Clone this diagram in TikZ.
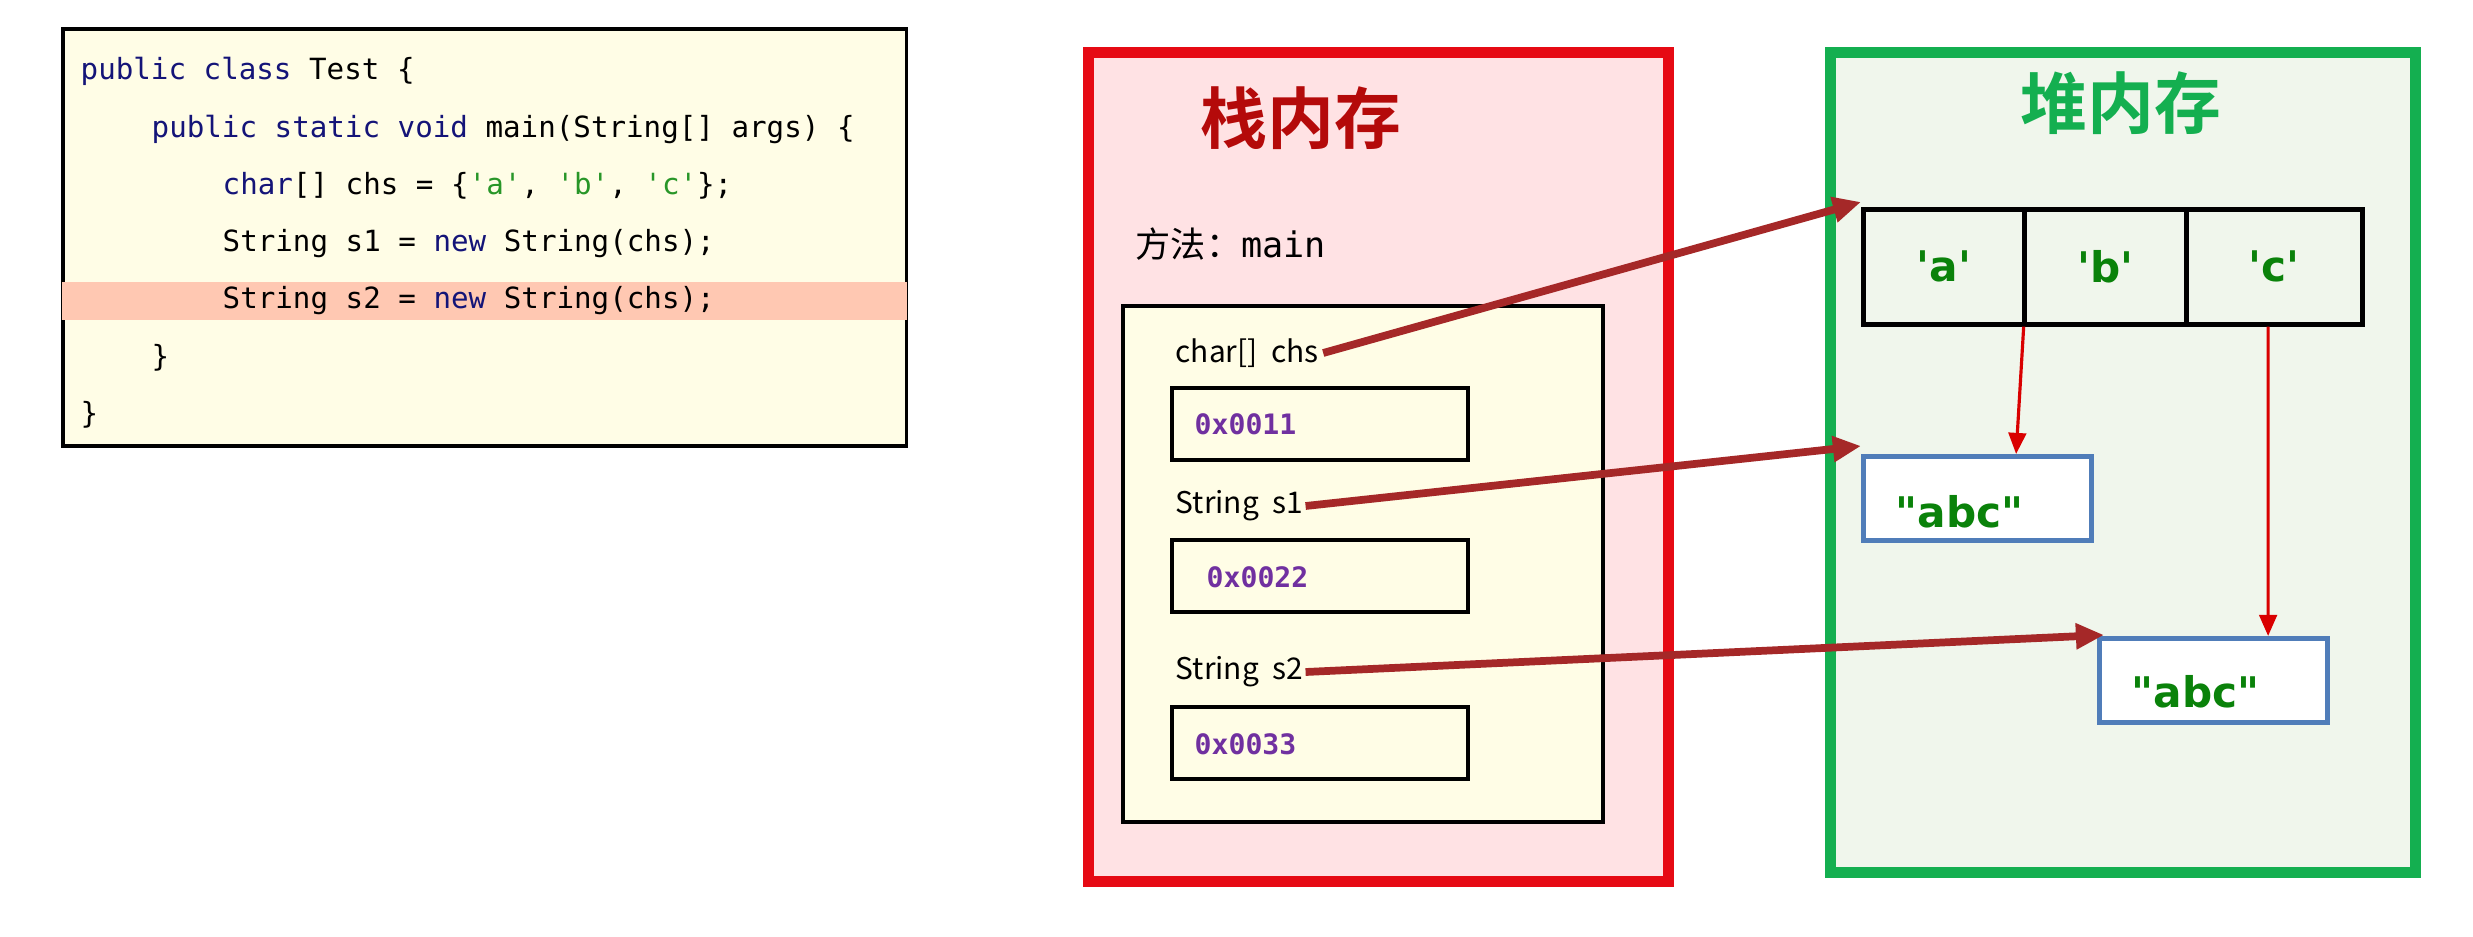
\documentclass[tikz,border=0pt]{standalone}
\usepackage{fontspec}
\setmainfont{Noto Sans CJK SC}
\setmonofont{DejaVu Sans Mono}
\newfontfamily\cjkbold{Noto Sans CJK SC Bold}
\newfontfamily\cellfont{DejaVu Sans}
\usetikzlibrary{calc, arrows.meta, positioning}

\definecolor{codebg}{RGB}{255,253,230}
\definecolor{hilite}{RGB}{255,200,178}
\definecolor{kw}{RGB}{20,20,120}
\definecolor{strg}{RGB}{40,150,40}
\definecolor{stackbg}{RGB}{255,226,228}
\definecolor{stackred}{RGB}{230,10,20}
\definecolor{titlered}{RGB}{180,10,10}
\definecolor{heapbg}{RGB}{240,246,236}
\definecolor{heapgreen}{RGB}{20,175,80}
\definecolor{valpurple}{RGB}{112,48,160}
\definecolor{darkgreen}{RGB}{10,130,10}
\definecolor{refarrow}{RGB}{165,40,40}
\definecolor{boxblue}{RGB}{80,125,185}

\begin{document}
\begin{tikzpicture}[x=0.01cm, y=-0.01cm,
						code/.style = {anchor=west, inner sep=0pt, font=\ttfamily\fontsize{8.3}{10}\selectfont},
						varlabel/.style = {anchor=west, inner sep=0pt, font=\fontsize{8.5}{10}\selectfont},
						valbox/.style = {draw, line width=1.2pt, minimum width=2.96cm, minimum height=0.72cm, anchor=north west},
						val/.style = {anchor=west, inner sep=0pt, text=valpurple, font=\ttfamily\bfseries\fontsize{8}{10}\selectfont},
						cell/.style = {draw, line width=1.3pt, minimum height=1.15cm, anchor=north west, inner sep=0pt, font=\cellfont\bfseries\fontsize{12}{14}\selectfont, text=darkgreen},
						strbox/.style = {draw=boxblue, line width=1.5pt, fill=white, minimum width=2.28cm, minimum height=0.84cm, anchor=north west, inner sep=0pt},
						strtext/.style = {anchor=west, inner sep=0pt, text=darkgreen, font=\cellfont\bfseries\fontsize{12}{14}\selectfont},
						refline/.style = {draw=refarrow, line width=2.2pt, -{Triangle[length=8pt, width=7pt]}},
						charline/.style = {draw=red!85!black, line width=0.9pt, -{Triangle[length=6pt, width=5pt]}}
					]
					\useasboundingbox (0,0) rectangle (2473,937);

					% code panel
					\node[draw, line width=1pt, fill=codebg, minimum width=8.43cm, minimum height=4.17cm, anchor=north west, inner sep=0pt] (codebox) at (61,27) {};
					\fill[hilite] (62,282) rectangle (907,320);
					\node[code] (l1) at (80,71) {\textcolor{kw}{public class} Test \{};
					\node[code] (l2) at (151,129) {\textcolor{kw}{public static void} main(String[] args) \{};
					\node[code] (l3) at (222,186) {\textcolor{kw}{char}[] chs = \{\textcolor{strg}{'a'}, \textcolor{strg}{'b'}, \textcolor{strg}{'c'}\};};
					\node[code] (l4) at (222,244) {String s1 = \textcolor{kw}{new} String(chs);};
					\node[code] (l5) at (222,301) {String s2 = \textcolor{kw}{new} String(chs);};
					\node[code] (l6) at (151,358) {\}};
					\node[code] (l7) at (80,415) {\}};

					% stack
					\node[draw=stackred, line width=3pt, fill=stackbg, minimum width=5.8cm, minimum height=8.29cm, anchor=north west] (stack) at (1083,47) {};
					\node[text=titlered, font=\cjkbold\fontsize{19}{22}\selectfont] (stacktitle) at (1301,118) {栈内存};
					\node[varlabel, font=\fontsize{10}{12}\selectfont] (method) at (1135,244) {方法：\texttt{main}};
					\node[draw, line width=1pt, fill=codebg, minimum width=4.8cm, minimum height=5.16cm, anchor=north west] (frame) at (1121,304) {};
					\node[varlabel] (chs) at (1175,353) {char[]\ \ chs};
					\node[valbox] (v1) at (1170,386) {};
					\node[val] at (1194,424) {0x0011};
					\node[varlabel] (s1) at (1175,506) {String\ \ s1};
					\node[valbox] (v2) at (1170,538) {};
					\node[val] at (1206,577) {0x0022};
					\node[varlabel] (s2) at (1175,672) {String\ \ s2};
					\node[valbox] (v3) at (1170,705) {};
					\node[val] at (1194,744) {0x0033};

					% heap
					\node[draw=heapgreen, line width=3pt, fill=heapbg, minimum width=5.85cm, minimum height=8.2cm, anchor=north west] (heap) at (1825,47) {};
					\node[text=heapgreen, font=\cjkbold\fontsize{19}{22}\selectfont] (heaptitle) at (2121,103) {堆内存};
					\node[cell, minimum width=1.61cm] (ca) at (1861,207) {'a'};
					\node[cell, minimum width=1.62cm] (cb) at (2022,207) {'b'};
					\node[cell, minimum width=1.76cm] (cc) at (2184,207) {'c'};
					\node[strbox] (abc1) at (1861,454) {};
					\node[strtext] at (1895,512) {"abc"};
					\node[strbox] (abc2) at (2097,636) {};
					\node[strtext] at (2131,692) {"abc"};

					% references
					\draw[charline] ([xshift=-0.03cm]ca.south east) -- ([xshift=1.55cm]abc1.north west);
					\draw[charline] ([xshift=0.84cm]cc.south west) -- ([xshift=1.71cm]abc2.north west);
					\draw[refline] ([xshift=0.04cm]chs.east) -- ([yshift=0.05cm]ca.north west);
					\draw[refline] ([xshift=0.02cm]s1.east) -- ([yshift=0.08cm]abc1.north west);
					\draw[refline] ([xshift=0.02cm]s2.east) -- ([xshift=0.07cm, yshift=0.01cm]abc2.north west);
				\end{tikzpicture}
\end{document}
